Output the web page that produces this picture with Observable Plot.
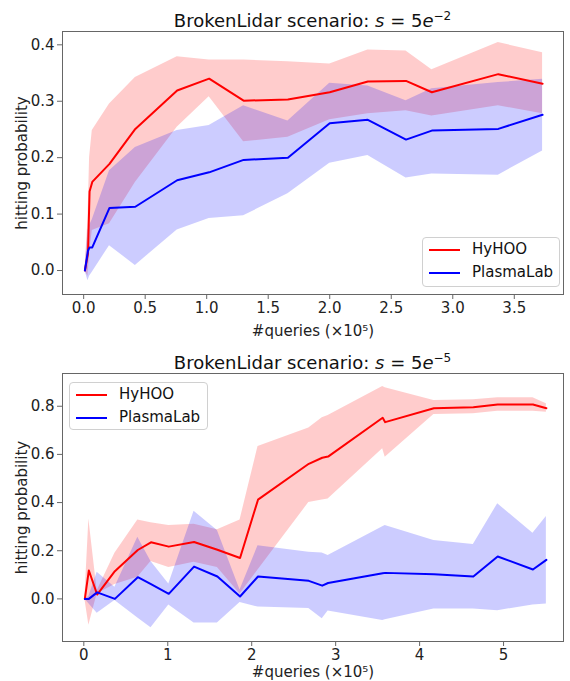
<!DOCTYPE html>
<html>
<head>
<meta charset="utf-8">
<script src="https://cdn.jsdelivr.net/npm/d3@7"></script>
<script src="https://cdn.jsdelivr.net/npm/@observablehq/plot@0.6"></script>
<style>
  body { margin: 0; background: #fff; }
  #wrap { position: relative; width: 570px; height: 681px; font-family: "DejaVu Sans", sans-serif; color: #111; }
  .title { position: absolute; left: 62px; width: 501px; text-align: center; font-size: 18px; line-height: 18px; white-space: nowrap; }
  .title sup { font-size: 12px; vertical-align: 7px; line-height: 0; }
  .plot { position: absolute; left: 0; }
  .legend { position: absolute; border: 1px solid #d0d0d0; border-radius: 4px; background: rgba(255,255,255,0.85); box-sizing: border-box; }
  .legend .sw { position: absolute; height: 2px; width: 31px; }
  .legend .lb { position: absolute; font-size: 15px; line-height: 15px; white-space: nowrap; }
</style>
</head>
<body>
<div id="wrap"></div>
<script>
// ---------- data ----------
const seriesNames = ["HyHOO", "PlasmaLab"];

// top panel: s = 5e-2
const topX            = [0.01, 0.035, 0.048, 0.07, 0.21, 0.42, 0.76, 1.02, 1.30, 1.66, 2.00, 2.31, 2.62, 2.83, 3.37, 3.73];
const topHyHOO        = [0.0, 0.03, 0.14, 0.157, 0.189, 0.251, 0.319, 0.340, 0.301, 0.303, 0.316, 0.335, 0.336, 0.316, 0.348, 0.331];
const topHyHOOLow     = [0.0, -0.01, 0.03, 0.071, 0.083, 0.156, 0.254, 0.308, 0.228, 0.236, 0.267, 0.278, 0.283, 0.274, 0.292, 0.278];
const topHyHOOHigh    = [0.0, 0.09, 0.20, 0.248, 0.295, 0.342, 0.379, 0.373, 0.373, 0.370, 0.366, 0.391, 0.389, 0.356, 0.404, 0.386];
const topPlasma       = [0.0, 0.035, 0.041, 0.041, 0.111, 0.113, 0.160, 0.174, 0.196, 0.200, 0.261, 0.267, 0.232, 0.248, 0.251, 0.276];
const topPlasmaLow    = [0.0, -0.018, -0.01, -0.003, 0.044, 0.009, 0.072, 0.092, 0.097, 0.136, 0.190, 0.204, 0.164, 0.171, 0.169, 0.212];
const topPlasmaHigh   = [0.0, 0.071, 0.08, 0.09, 0.177, 0.218, 0.248, 0.257, 0.292, 0.265, 0.332, 0.327, 0.301, 0.322, 0.333, 0.339];
const topXTicks = [0, 0.5, 1.0, 1.5, 2.0, 2.5, 3.0, 3.5];
const topYTicks = [0, 0.1, 0.2, 0.3, 0.4];

// bottom panel: s = 5e-5
const botX            = [0.012, 0.06, 0.159, 0.37, 0.643, 0.80, 1.012, 1.313, 1.591, 1.861, 2.075, 2.68, 2.84, 2.91, 3.56, 3.59, 4.17, 4.64, 4.93, 5.35, 5.51];
const botHyHOO        = [0.0, 0.118, 0.018, 0.115, 0.203, 0.235, 0.217, 0.236, 0.204, 0.170, 0.412, 0.561, 0.586, 0.591, 0.752, 0.734, 0.792, 0.796, 0.807, 0.807, 0.792];
const botHyHOOLow     = [0.0, -0.11, 0.021, 0.06, 0.09, 0.155, 0.13, 0.152, 0.13, 0.02, 0.12, 0.40, 0.411, 0.415, 0.623, 0.588, 0.766, 0.769, 0.779, 0.779, 0.775];
const botHyHOOHigh    = [0.0, 0.332, 0.034, 0.19, 0.328, 0.316, 0.305, 0.31, 0.287, 0.328, 0.633, 0.71, 0.752, 0.762, 0.882, 0.877, 0.824, 0.827, 0.835, 0.835, 0.81];
const botPlasma       = [0.0, 0.0, 0.027, 0.0, 0.09, 0.061, 0.021, 0.134, 0.093, 0.01, 0.093, 0.075, 0.055, 0.066, 0.106, 0.108, 0.102, 0.093, 0.176, 0.122, 0.162];
const botPlasmaLow    = [0.0, -0.02, -0.06, -0.007, -0.079, -0.12, -0.025, -0.10, -0.10, -0.015, -0.034, -0.04, -0.082, -0.05, -0.09, -0.087, -0.042, -0.042, -0.049, -0.025, -0.021];
const botPlasmaHigh   = [0.0, 0.01, 0.111, 0.048, 0.256, 0.155, 0.062, 0.364, 0.284, 0.037, 0.221, 0.194, 0.191, 0.18, 0.30, 0.305, 0.242, 0.226, 0.395, 0.273, 0.342];
const botXTicks = [0, 1, 2, 3, 4, 5];
const botYTicks = [0, 0.2, 0.4, 0.6, 0.8];

const xLabel = "#queries (×10⁵)";
const yLabel = "hitting probability";

// ---------- build ----------
function rows(x, r, rl, rh, b, bl, bh) {
  return x.map((v, i) => ({x: v, r: r[i], rl: rl[i], rh: rh[i], b: b[i], bl: bl[i], bh: bh[i]}));
}
const topData = rows(topX, topHyHOO, topHyHOOLow, topHyHOOHigh, topPlasma, topPlasmaLow, topPlasmaHigh);
const botData = rows(botX, botHyHOO, botHyHOOLow, botHyHOOHigh, botPlasma, botPlasmaLow, botPlasmaHigh);

function panel(data, opts) {
  return Plot.plot({
    width: 570, height: opts.height,
    marginLeft: 62, marginRight: 7, marginTop: opts.mt, marginBottom: opts.mb,
    style: {fontFamily: "DejaVu Sans, sans-serif", fontSize: "15px", color: "#222", background: "transparent", overflow: "visible"},
    x: {domain: opts.xd}, y: {domain: opts.yd},
    marks: [
      Plot.areaY(data, {x: "x", y1: "rl", y2: "rh", fill: "#ff0000", fillOpacity: 0.2}),
      Plot.areaY(data, {x: "x", y1: "bl", y2: "bh", fill: "#0000ff", fillOpacity: 0.2}),
      Plot.lineY(data, {x: "x", y: "r", stroke: "#ff0000", strokeWidth: 2}),
      Plot.lineY(data, {x: "x", y: "b", stroke: "#0000ff", strokeWidth: 2}),
      Plot.frame({stroke: "#666", strokeWidth: 1}),
      Plot.axisX({ticks: opts.xt, tickFormat: opts.xf, tickSize: 5, tickPadding: 3, stroke: "#666",
                  label: xLabel, labelAnchor: "center", labelArrow: "none", labelOffset: opts.xlo}),
      Plot.axisY({ticks: opts.yt, tickFormat: d3.format(".1f"), tickSize: 5, tickPadding: 3, stroke: "#666",
                  label: yLabel, labelAnchor: "center", labelArrow: "none", labelOffset: 46})
    ]
  });
}

const wrap = document.getElementById("wrap");

function addTitle(top, exp) {
  const d = document.createElement("div");
  d.className = "title";
  d.style.top = top + "px";
  d.innerHTML = "BrokenLidar scenario: <i>s</i> = 5<i>e</i><sup>−" + exp + "</sup>";
  wrap.appendChild(d);
}

function addLegend(left, top, w, h) {
  const box = document.createElement("div");
  box.className = "legend";
  Object.assign(box.style, {left: left + "px", top: top + "px", width: w + "px", height: h + "px"});
  const colors = ["#ff0000", "#0000ff"];
  seriesNames.forEach((name, i) => {
    const sw = document.createElement("div");
    sw.className = "sw";
    Object.assign(sw.style, {left: "6px", top: (11 + 23 * i) + "px", background: colors[i]});
    const lb = document.createElement("div");
    lb.className = "lb";
    Object.assign(lb.style, {left: "49px", top: (4 + 23 * i) + "px"});
    lb.textContent = name;
    box.appendChild(sw); box.appendChild(lb);
  });
  wrap.appendChild(box);
}

const p1 = panel(topData, {height: 340, mt: 31, mb: 46, xd: [-0.172, 3.90], yd: [-0.0425, 0.4236],
  xt: topXTicks, xf: d3.format(".1f"), yt: topYTicks, xlo: 41});
p1.classList.add("plot"); p1.style.top = "0px";
wrap.appendChild(p1);

const p2 = panel(botData, {height: 341, mt: 33, mb: 40, xd: [-0.254, 5.714], yd: [-0.177, 0.936],
  xt: botXTicks, xf: d3.format("d"), yt: botYTicks, xlo: 35});
p2.classList.add("plot"); p2.style.top = "340px";
wrap.appendChild(p2);

addTitle(12, 2);
addTitle(354, 5);
addLegend(422, 237, 138, 50);
addLegend(69, 382, 139, 48);
</script>
</body>
</html>
